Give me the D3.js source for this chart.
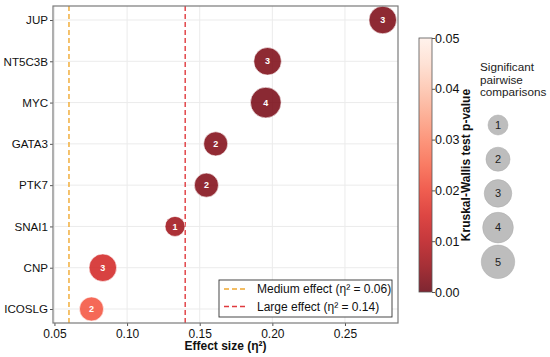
<!DOCTYPE html>
<html lang="en">
<head>
  <meta charset="utf-8">
  <title>Effect size chart</title>
  <script src="https://d3js.org/d3.v7.min.js"></script>
  <style>
    body { margin: 0; background: #fff; }
    text { font-family: "Liberation Sans", Arial, sans-serif; }
  </style>
</head>
<body>
<script type="text/javascript">

  // Data
  var genes = ["JUP", "NT5C3B", "MYC", "GATA3", "PTK7", "SNAI1", "CNP", "ICOSLG"];
  var effectSize = [0.276, 0.1967, 0.1955, 0.161, 0.1546, 0.133, 0.0833, 0.0755];
  var pValues = [0.002, 0.002, 0.0015, 0.0025, 0.0025, 0.006, 0.014, 0.022];
  var comparisons = [3, 3, 4, 2, 2, 1, 3, 2];
  var xTicks = [0.05, 0.10, 0.15, 0.20, 0.25];
  var pTicks = [0.00, 0.01, 0.02, 0.03, 0.04, 0.05];
  var sizeLegend = [1, 2, 3, 4, 5];
  var thresholds = [
    { label: "Medium effect (η² = 0.06)", value: 0.06, color: "#f0a830" },
    { label: "Large effect (η² = 0.14)", value: 0.14, color: "#e03a3e" }
  ];

  var svg_width = 550;
  var svg_height = 357;
  var plot = { left: 53, top: 6, right: 398, bottom: 323 };

  var svg = d3.select("body")
              .append("svg")
              .attr("width", svg_width)
              .attr("height", svg_height);

  var xScale = d3.scaleLinear()
                 .domain([0.049, 0.2865])
                 .range([plot.left, plot.right]);

  var yScale = d3.scalePoint()
                 .domain(genes)
                 .range([20, 309]);

  // radius^2 grows linearly with number of comparisons
  var rScale = function(n) { return Math.sqrt(55 + 45 * n); };

  var pScale = d3.scaleLinear().domain([0, 0.05]).range([0, 1]);
  var colorFor = function(p) { return d3.interpolateReds(1 - pScale(p) * 0.97); };

  // Grid
  svg.append("g").selectAll("line.vg")
     .data(xTicks).enter().append("line")
       .attr("x1", function(d) { return xScale(d); })
       .attr("x2", function(d) { return xScale(d); })
       .attr("y1", plot.top).attr("y2", plot.bottom)
       .attr("stroke", "#ebebeb").attr("stroke-width", 1);

  svg.append("g").selectAll("line.hg")
     .data(genes).enter().append("line")
       .attr("x1", plot.left).attr("x2", plot.right)
       .attr("y1", function(d) { return yScale(d); })
       .attr("y2", function(d) { return yScale(d); })
       .attr("stroke", "#ebebeb").attr("stroke-width", 1);

  // Threshold lines
  svg.append("g").selectAll("line.th")
     .data(thresholds).enter().append("line")
       .attr("x1", function(d) { return xScale(d.value); })
       .attr("x2", function(d) { return xScale(d.value); })
       .attr("y1", plot.top).attr("y2", plot.bottom)
       .attr("stroke", function(d) { return d.color; })
       .attr("stroke-width", 1.4)
       .attr("stroke-dasharray", "5,3");

  // Points
  var pts = genes.map(function(g, i) {
    return { gene: g, x: effectSize[i], p: pValues[i], n: comparisons[i] };
  });

  var pg = svg.append("g").selectAll("g")
     .data(pts).enter().append("g")
       .attr("transform", function(d) { return "translate(" + xScale(d.x) + "," + yScale(d.gene) + ")"; });

  pg.append("circle")
    .attr("r", function(d) { return rScale(d.n); })
    .attr("fill", function(d) { return colorFor(d.p); })
    .attr("fill-opacity", 0.85)
    .attr("stroke", "#fff")
    .attr("stroke-width", 0.6);

  pg.append("text")
    .text(function(d) { return d.n; })
    .attr("text-anchor", "middle")
    .attr("dy", "0.35em")
    .attr("fill", "#fff")
    .attr("font-size", "9px")
    .attr("font-weight", "bold");

  // Axes
  var xAxis = d3.axisBottom(xScale)
                .tickValues(xTicks)
                .tickFormat(d3.format(".2f"))
                .tickSize(3);
  var gx = svg.append("g")
              .attr("transform", "translate(0," + plot.bottom + ")")
              .call(xAxis);
  gx.select(".domain").remove();
  gx.selectAll("line").attr("stroke", "#555");
  gx.selectAll("text").attr("font-size", "12px").attr("fill", "#111");

  var yAxis = d3.axisLeft(yScale).tickSize(3);
  var gy = svg.append("g")
              .attr("transform", "translate(" + plot.left + ",0)")
              .call(yAxis);
  gy.select(".domain").remove();
  gy.selectAll("line").attr("stroke", "#555");
  gy.selectAll("text").attr("font-size", "11.6px").attr("fill", "#111").attr("x", -5);

  // Plot frame
  svg.append("rect")
     .attr("x", plot.left).attr("y", plot.top)
     .attr("width", plot.right - plot.left)
     .attr("height", plot.bottom - plot.top)
     .attr("fill", "none")
     .attr("stroke", "#7a7a7a")
     .attr("stroke-width", 1.2);

  svg.append("text")
     .text("Effect size (η²)")
     .attr("x", (plot.left + plot.right) / 2)
     .attr("y", 350)
     .attr("text-anchor", "middle")
     .attr("font-size", "12px")
     .attr("font-weight", "bold")
     .attr("fill", "#111");

  // Threshold legend
  var lg = svg.append("g");
  lg.append("rect")
    .attr("x", 219).attr("y", 280)
    .attr("width", 173).attr("height", 37)
    .attr("fill", "#fff")
    .attr("stroke", "#333")
    .attr("stroke-width", 0.9);

  var li = lg.selectAll("g")
    .data(thresholds).enter().append("g")
      .attr("transform", function(d, i) { return "translate(224," + (289 + i * 17.5) + ")"; });
  li.append("line")
    .attr("x1", 0).attr("x2", 23)
    .attr("stroke", function(d) { return d.color; })
    .attr("stroke-width", 1.4)
    .attr("stroke-dasharray", "5,3");
  li.append("text")
    .text(function(d) { return d.label; })
    .attr("x", 33).attr("dy", "0.35em")
    .attr("font-size", "12px")
    .attr("fill", "#111");

  // Colorbar
  var cb = { x: 419, w: 13, top: 38, bottom: 292 };
  var cbScale = d3.scaleLinear().domain([0, 0.05]).range([cb.bottom, cb.top]);

  var grad = svg.append("defs").append("linearGradient")
                .attr("id", "pgrad")
                .attr("x1", "0").attr("y1", "1").attr("x2", "0").attr("y2", "0");
  d3.range(0, 1.0001, 0.1).forEach(function(t) {
    grad.append("stop")
        .attr("offset", t)
        .attr("stop-color", colorFor(t * 0.05))
        .attr("stop-opacity", 0.85);
  });

  svg.append("rect")
     .attr("x", cb.x).attr("y", cb.top)
     .attr("width", cb.w).attr("height", cb.bottom - cb.top)
     .attr("fill", "url(#pgrad)")
     .attr("stroke", "#555")
     .attr("stroke-width", 0.8);

  var cbAxis = d3.axisRight(cbScale)
                 .tickValues(pTicks)
                 .tickFormat(d3.format(".2f"))
                 .tickSize(3);
  var gc = svg.append("g")
              .attr("transform", "translate(" + (cb.x + cb.w) + ",0)")
              .call(cbAxis);
  gc.select(".domain").remove();
  gc.selectAll("line").attr("stroke", "#555");
  gc.selectAll("text").attr("font-size", "12.5px").attr("fill", "#111").attr("x", 3);

  svg.append("text")
     .text("Kruskal-Wallis test p-value")
     .attr("transform", "translate(470," + ((cb.top + cb.bottom) / 2) + ") rotate(-90)")
     .attr("text-anchor", "middle")
     .attr("font-size", "12px")
     .attr("font-weight", "bold")
     .attr("fill", "#111");

  // Size legend
  var titleLines = ["Significant", "pairwise", "comparisons"];
  svg.append("g").selectAll("text")
     .data(titleLines).enter().append("text")
       .text(function(d) { return d; })
       .attr("x", 480)
       .attr("y", function(d, i) { return 71 + i * 12.5; })
       .attr("font-size", "11.7px")
       .attr("fill", "#222");

  var sg = svg.append("g").selectAll("g")
     .data(sizeLegend).enter().append("g")
       .attr("transform", function(d, i) { return "translate(498," + (125 + i * 34.2) + ")"; });
  sg.append("circle")
    .attr("r", function(d) { return rScale(d); })
    .attr("fill", "#bdbdbd")
    .attr("stroke", "#aaa")
    .attr("stroke-width", 0.5);
  sg.append("text")
    .text(function(d) { return d; })
    .attr("text-anchor", "middle")
    .attr("dy", "0.35em")
    .attr("font-size", "11px")
    .attr("fill", "#222");

</script>
</body>
</html>
